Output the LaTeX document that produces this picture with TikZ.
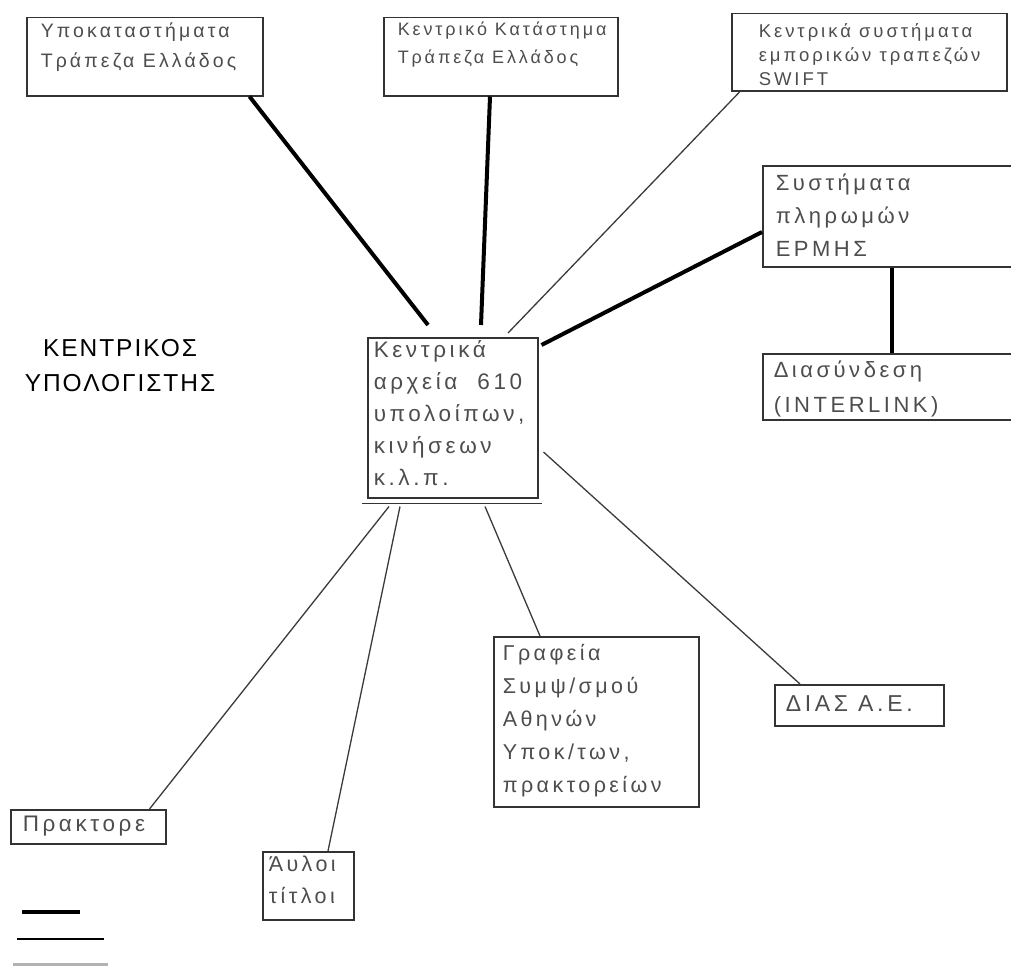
\documentclass[tikz,border=0pt]{standalone}
\usepackage{fontspec}
\setmainfont{Liberation Sans}[LetterSpace=16]
\newfontfamily\headfont{Liberation Sans}[LetterSpace=8]
\definecolor{boxgray}{HTML}{333333}
\definecolor{txtgray}{HTML}{4D4D4D}
\definecolor{linegray}{HTML}{3A3A3A}
% width, height, left pad, first baseline, lines
\newcommand{\boxtxt}[5]{\parbox[t][#2pt][t]{#1pt}{\raggedright\leftskip=#3pt\rule{0pt}{#4pt}#5}}
\begin{document}
\begin{tikzpicture}[x=1pt,y=-1pt,
    box/.style={draw=boxgray,line width=1.5pt,anchor=north west,inner sep=0pt,text=txtgray},
    heavy/.style={line width=4pt,black},
    light/.style={line width=1.3pt,linegray}]
            \useasboundingbox (0,0) rectangle (1011,966);

            \node[box,font=\fontsize{19.5}{30}\selectfont] (sub) at (26,17) {\boxtxt{236}{78}{14}{20}{Υποκαταστήματα\\Τράπεζα Ελλάδος}};
            \node[box,font=\fontsize{18}{28}\selectfont] (kk) at (383,17) {\boxtxt{234}{78}{14}{18}{Κεντρικό Κατάστημα\\Τράπεζα Ελλάδος}};
            \node[box,font=\fontsize{18.5}{24}\selectfont] (swift) at (731,13) {\boxtxt{275}{77}{27}{24}{Κεντρικά συστήματα\\εμπορικών τραπεζών\\SWIFT}};
            \node[box,font=\fontsize{22}{33}\selectfont] (ermis) at (762,165) {\boxtxt{253}{101}{13}{25}{Συστήματα\\πληρωμών\\ΕΡΜΗΣ}};
            \node[box,font=\fontsize{22}{35}\selectfont] (link) at (762,353) {\boxtxt{253}{66}{11}{24}{Διασύνδεση\\(INTERLINK)}};

            \node[box,font=\fontsize{22.5}{32}\selectfont] (cent) at (367,337) {\boxtxt{170}{160}{6}{20}{Κεντρικά\\αρχεία\hspace{20pt}610\\υπολοίπων,\\κινήσεων\\κ.λ.π.}};
            \draw[boxgray,line width=1.5pt] ([shift={(-5pt,-5pt)}]cent.south west) -- ([shift={(3pt,-5pt)}]cent.south east);

            \node[box,font=\fontsize{21.5}{33}\selectfont] (graf) at (493,636) {\boxtxt{205}{170}{9}{24}{Γραφεία\\Συμψ/σμού\\Αθηνών\\Υποκ/των,\\πρακτορείων}};
            \node[box,font=\fontsize{23}{32}\selectfont] (dias) at (774,684) {\boxtxt{169}{41}{11}{27}{ΔΙΑΣ Α.Ε.}};
            \node[box,font=\fontsize{22.5}{32}\selectfont] (prak) at (10,809) {\boxtxt{155}{34}{12}{22}{Πρακτορε}};
            \node[box,font=\fontsize{21.5}{32}\selectfont] (avl) at (262,851) {\boxtxt{91}{68}{6}{20}{Άυλοι\\τίτλοι}};

            \node[font=\headfont\fontsize{24.5}{35}\selectfont,align=center,black] (head) at (120,366) {ΚΕΝΤΡΙΚΟΣ\\ΥΠΟΛΟΓΙΣΤΗΣ};

            \path [heavy] ([xshift=-14pt]sub.south east) edge ([shift={(61pt,12pt)}]cent.north west);
            \path [heavy] ([xshift=107pt]kk.south west) edge ([shift={(114pt,12pt)}]cent.north west);
            \path [light] ([xshift=9pt]swift.south west) edge ([shift={(141pt,4pt)}]cent.north west);
            \path [heavy] ([shift={(3pt,-8pt)}]cent.north east) edge ([yshift=-67pt]ermis.north west);
            \path [heavy] ([xshift=130pt]ermis.south west) edge ([xshift=130pt]link.north west);

            \path [light] ([shift={(22pt,-8pt)}]cent.south west) edge ([xshift=-17pt]prak.north east);
            \path [light] ([shift={(33pt,-8pt)}]cent.south west) edge ([xshift=66pt]avl.north west);
            \path [light] ([shift={(118pt,-8pt)}]cent.south west) edge ([xshift=47pt]graf.north west);
            \path [light] ([shift={(5pt,-115pt)}]cent.north east) edge ([xshift=26pt]dias.north west);

            \draw[line width=3.5pt] (22,912) -- (80,912);
            \draw[line width=1.5pt] (17,939) -- (104,939);
            \draw[line width=3pt,gray!60] (13,964) -- (108,964);
        \end{tikzpicture}
\end{document}
